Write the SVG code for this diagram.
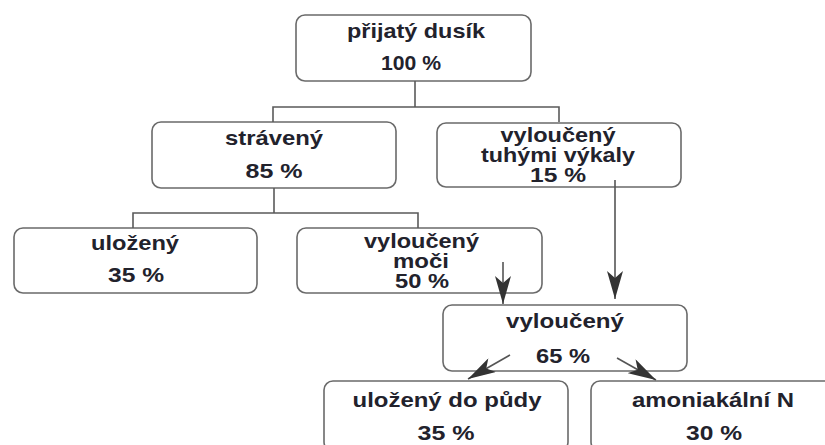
<svg xmlns="http://www.w3.org/2000/svg" width="825" height="445" viewBox="0 0 825 445">
<style>
.box{fill:#fff;stroke:#6a6a6a;stroke-width:1.6}
.t{font-family:"Liberation Sans",Arial,sans-serif;font-weight:bold;font-size:21px;fill:#22222c;text-anchor:middle}
.s{font-size:20px}
.c{fill:none;stroke:#5a5a5a;stroke-width:1.6}
.a{fill:none;stroke:#555;stroke-width:1.6;marker-end:url(#ah)}
</style>
<defs>
<marker id="ah" viewBox="0 0 28 16" refX="28" refY="8" markerWidth="28" markerHeight="16" markerUnits="userSpaceOnUse" orient="auto">
<path d="M0,0 L28,8 L0,16 L7,8 Z" fill="#333"/>
</marker>
</defs>
<rect width="825" height="445" fill="#fff"/>
<g id="n1">
<rect class="box" x="296" y="15" width="235" height="66" rx="9"/>
<text class="t" x="416" y="38" textLength="138" lengthAdjust="spacingAndGlyphs">přijatý dusík</text>
<text class="t" x="411" y="70" textLength="60" lengthAdjust="spacingAndGlyphs">100 %</text>
</g>
<g id="n2">
<rect class="box" x="152" y="122" width="244" height="66" rx="9"/>
<text class="t" x="274" y="145" textLength="98" lengthAdjust="spacingAndGlyphs">strávený</text>
<text class="t" x="274" y="178" textLength="57" lengthAdjust="spacingAndGlyphs">85 %</text>
</g>
<g id="n3">
<rect class="box" x="437" y="123" width="244" height="64" rx="9"/>
<text class="t s" x="558" y="142" textLength="115" lengthAdjust="spacingAndGlyphs">vyloučený</text>
<text class="t s" x="558" y="162" textLength="154" lengthAdjust="spacingAndGlyphs">tuhými výkaly</text>
<text class="t s" x="558" y="182" textLength="56" lengthAdjust="spacingAndGlyphs">15 %</text>
</g>
<g id="n4">
<rect class="box" x="14" y="228" width="243" height="65" rx="9"/>
<text class="t" x="135" y="250" textLength="88" lengthAdjust="spacingAndGlyphs">uložený</text>
<text class="t" x="136" y="282" textLength="56" lengthAdjust="spacingAndGlyphs">35 %</text>
</g>
<g id="n5">
<rect class="box" x="297" y="228" width="245" height="65" rx="9"/>
<text class="t s" x="421.5" y="248" textLength="115" lengthAdjust="spacingAndGlyphs">vyloučený</text>
<text class="t s" x="421" y="268" textLength="56" lengthAdjust="spacingAndGlyphs">moči</text>
<text class="t s" x="422" y="288" textLength="54" lengthAdjust="spacingAndGlyphs">50 %</text>
</g>
<g id="n6">
<rect class="box" x="443" y="305" width="244" height="66" rx="9"/>
<text class="t" x="565" y="328" textLength="118" lengthAdjust="spacingAndGlyphs">vyloučený</text>
<text class="t" x="563" y="363" textLength="54" lengthAdjust="spacingAndGlyphs">65 %</text>
</g>
<g id="n7">
<rect class="box" x="324" y="381" width="244" height="70" rx="9"/>
<text class="t" x="447" y="407" textLength="189" lengthAdjust="spacingAndGlyphs">uložený do půdy</text>
<text class="t" x="446" y="440" textLength="57" lengthAdjust="spacingAndGlyphs">35 %</text>
</g>
<g id="n8">
<rect class="box" x="591" y="381" width="244" height="70" rx="9"/>
<text class="t" x="713" y="407" textLength="162" lengthAdjust="spacingAndGlyphs">amoniakální N</text>
<text class="t" x="714" y="440" textLength="56" lengthAdjust="spacingAndGlyphs">30 %</text>
</g>
<g id="connectors">
<polyline class="c" points="415,81 415,107"/>
<polyline class="c" points="273,122 273,107 559,107 559,122"/>
<polyline class="c" points="274,188 274,213"/>
<polyline class="c" points="133,228 133,213 418,213 418,228"/>
<line class="a" x1="503" y1="262" x2="503" y2="304"/>
<line class="a" x1="615" y1="180" x2="615" y2="299"/>
<line class="a" x1="510" y1="355" x2="468" y2="379"/>
<line class="a" x1="617" y1="358" x2="656" y2="380"/>
</g>
</svg>
